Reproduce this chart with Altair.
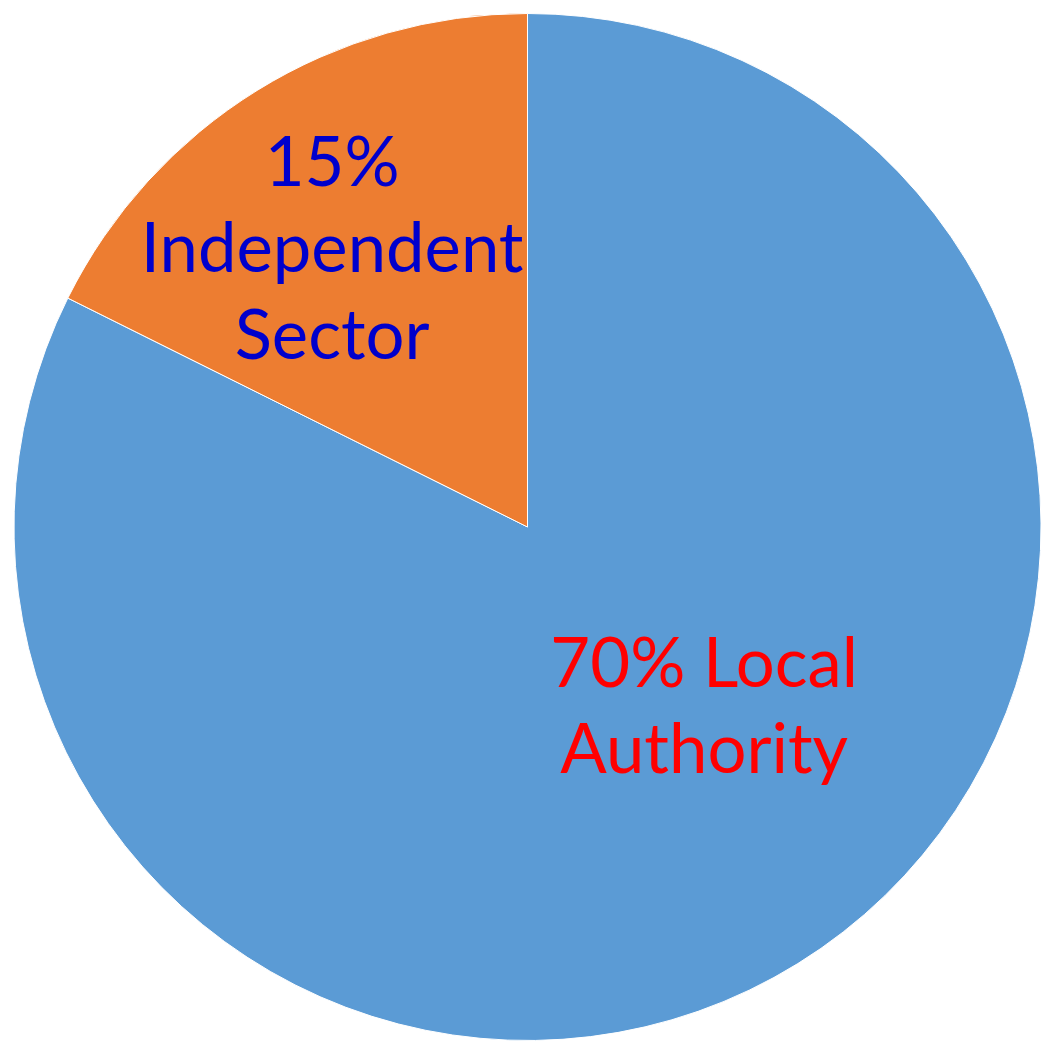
import altair as alt
import pandas as pd

categories = ["Local Authority", "Independent Sector"]
values = [70, 15]
labels = ["70% Local\nAuthority", "15%\nIndependent\nSector"]
slice_colors = ["#5B9BD5", "#ED7D31"]
label_colors = ["#FF0000", "#0000CC"]

df = pd.DataFrame({
    "category": categories,
    "value": values,
    "label": labels,
    "rank": list(range(len(categories))),
})

theta = alt.Theta("value:Q", stack=True)
order = alt.Order("rank:Q")

pie = alt.Chart(df).mark_arc(stroke="white", strokeWidth=1).encode(
    theta=theta,
    order=order,
    radius=alt.value(515),
    color=alt.Color("category:N", scale=alt.Scale(domain=categories, range=slice_colors), legend=None),
)

def label_layer(cat, color, radius, dx, dy):
    return alt.Chart(df).transform_calculate(
        lab=f"datum.category == '{cat}' ? datum.label : ''"
    ).mark_text(
        font="Lato", fontSize=69, lineHeight=87, lineBreak="\n",
        align="center", baseline="middle", color=color, dx=dx, dy=dy,
    ).encode(
        theta=theta,
        order=order,
        radius=alt.value(radius),
        text="lab:N",
    )

la = label_layer(categories[0], label_colors[0], 253, 44, -76)
ind = label_layer(categories[1], label_colors[1], 338, -18, -76)

chart = alt.layer(pie, la, ind).properties(
    width=1030, height=1030,
    padding={"left": 6, "top": 4, "right": 0, "bottom": 0},
    autosize=alt.AutoSizeParams(type="none"),
).configure_view(stroke=None)

chart.save("out.html", embed_options={"renderer": "svg", "actions": False})
